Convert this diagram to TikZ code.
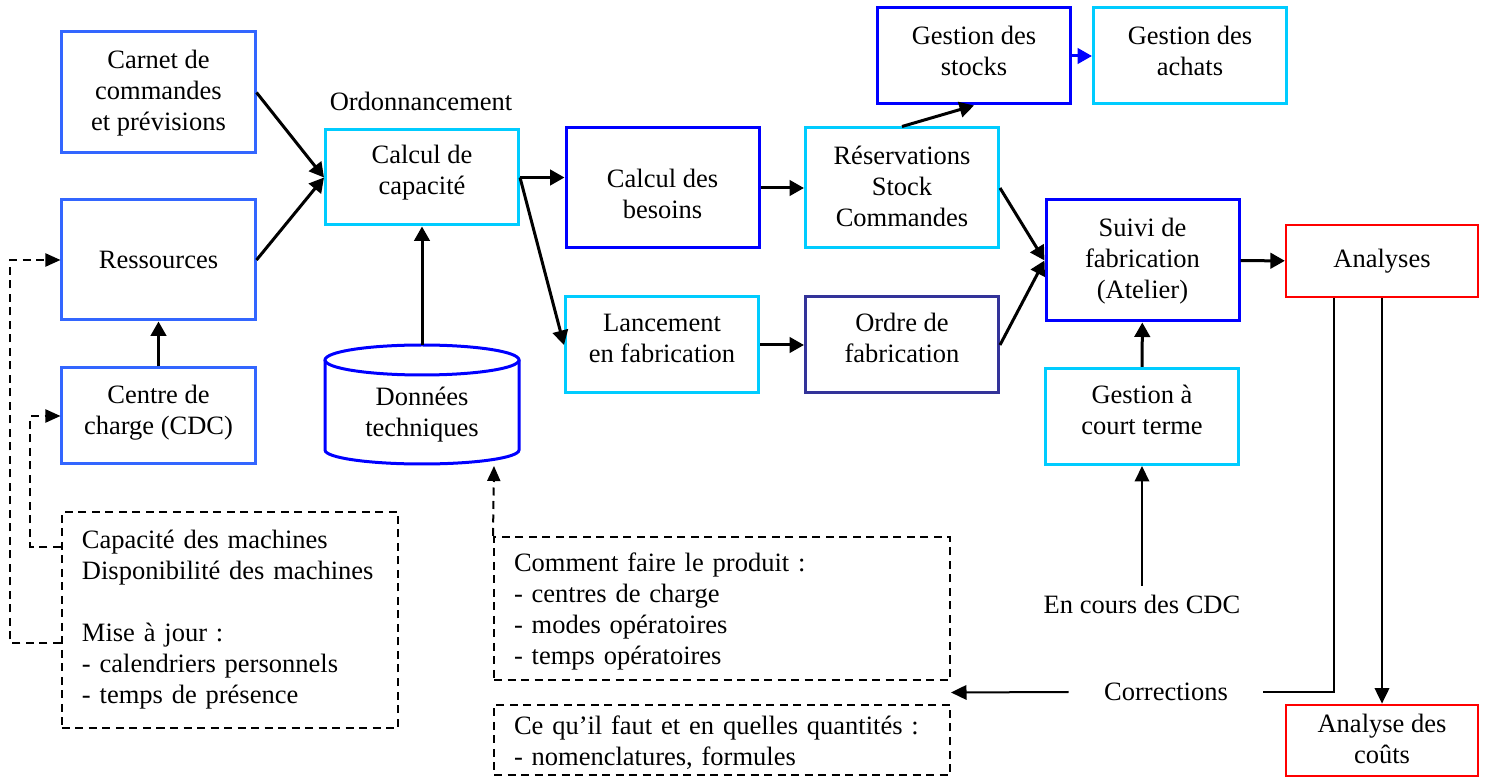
\documentclass[tikz,border=0pt]{standalone}
\usepackage{fontspec}
\setmainfont{Liberation Serif}
\usetikzlibrary{arrows.meta,calc}

\definecolor{bleumoyen}{HTML}{3366FF}
\definecolor{bleuciel}{HTML}{00CCFF}
\definecolor{bleuvif}{HTML}{0000FF}
\definecolor{indigo}{HTML}{333399}
\definecolor{rouge}{HTML}{FF0000}

\begin{document}
\begin{tikzpicture}[x=0.4pt, y=-0.4pt,
    font=\fontsize{10.6}{12.4}\selectfont,
    haut/.style={text depth=3pt, text height=#1},
    bas/.style={text height=7pt, text depth=#1},
    box/.style={draw, line width=1.2pt, minimum width=77.2pt, align=center, inner sep=2pt},
    box1/.style={box, minimum height=38.4pt},
    box2/.style={box, minimum height=48.4pt},
    boxr/.style={draw=rouge, line width=0.9pt, minimum width=76.8pt, minimum height=28.6pt, align=center, inner sep=2pt},
    note/.style={draw, line width=0.8pt, dash pattern=on 3.2pt off 2.2pt, align=left, inner xsep=8pt},
    fl/.style={line width=1.2pt, -{Triangle[length=5.8pt,width=6.2pt]}},
    fin/.style={line width=0.8pt},
    flin/.style={fin, -{Triangle[length=6.2pt,width=5.8pt]}},
    pointille/.style={line width=0.8pt, dash pattern=on 3.2pt off 2.2pt, -{Triangle[length=6pt,width=5.2pt]}}]

    \useasboundingbox (0,0) rectangle (1488,778);

    % colonne de gauche
    \node[box2, draw=bleumoyen, haut=33.2pt] (carnet) at (158.5,92.5) {Carnet de\\commandes\\et prévisions};
    \node[box2, draw=bleumoyen, minimum height=48pt] (ressources) at (158.5,260) {Ressources};
    \node[box1, draw=bleumoyen, haut=17.6pt] (cdc) at (158.5,416) {Centre de\\charge (CDC)};

    % ordonnancement
    \node (ordo) at (421,101) {Ordonnancement};
    \node[box1, draw=bleuciel, minimum height=38pt, haut=16.8pt] (capacite) at (422,177.5) {Calcul de\\capacité};
    \draw[bleuvif, line width=1.2pt] (325,360) -- (325,450) arc[start angle=180, end angle=0, x radius=97, y radius=14] -- (519,360);
    \draw[bleuvif, line width=1.2pt] (422,360) ellipse [x radius=97, y radius=15];
    \node[align=center] (donnees) at (422,414.5) {Données\\techniques};
    \coordinate (donnees-haut) at (422,345);
    \coordinate (donnees-bas) at (494,466);

    \node[box2, draw=bleuvif, minimum height=48pt, haut=27.2pt] (besoins) at (662.5,188) {Calcul des\\besoins};
    \node[box1, draw=bleuciel, haut=17.2pt] (lancement) at (662,345) {Lancement\\en fabrication};
    \node[box2, draw=bleuciel, minimum height=48pt, haut=33.6pt] (reservations) at (902,188) {Réservations\\Stock\\Commandes};
    \node[box1, draw=indigo, haut=17.2pt] (ordre) at (902,345) {Ordre de\\fabrication};
    \node[box1, draw=bleuvif, haut=18.4pt] (stocks) at (974,56) {Gestion des\\stocks};
    \node[box1, draw=bleuciel, haut=18.4pt] (achats) at (1190,56) {Gestion des\\achats};

    % atelier
    \node[box2, draw=bleuvif, haut=33.2pt] (suivi) at (1142.5,260.5) {Suivi de\\fabrication\\(Atelier)};
    \node[box1, draw=bleuciel, haut=17.6pt] (court) at (1142,416.5) {Gestion à\\court terme};
    \node[boxr] (analyses) at (1382,261) {Analyses};
    \node[boxr, haut=21.6pt] (couts) at (1382,740.5) {Analyse des\\coûts};
    \node (encours) at (1142,604) {En cours des CDC};
    \node[inner xsep=14pt] (corrections) at (1166,692) {Corrections};

    % notes
    \node[note, text width=118.4pt, minimum height=86.4pt] (machines) at (230,620) {Capacité des machines\\Disponibilité des machines\\[12.4pt]Mise à jour :\\- calendriers personnels\\- temps de présence};
    \node[note, text width=166.4pt, minimum height=57.2pt, bas=36.8pt] (produit) at (722,608.5) {Comment faire le produit :\\- centres de charge\\- modes opératoires\\- temps opératoires};
    \node[note, text width=166.4pt, minimum height=28pt, bas=11.6pt] (quantites) at (722,740) {Ce qu’il faut et en quelles quantités :\\- nomenclatures, formules};

    % liaisons
    \draw[fl] (carnet.east) -- (capacite.west);
    \draw[fl] (ressources.east) -- (capacite.west);
    \draw[fl] (cdc.north) -- (ressources.south);
    \draw[fl] (donnees-haut) -- (capacite.south);
    \draw[fl] (capacite.east) -- (capacite.east -| besoins.west);
    \draw[fl] (capacite.east) -- (lancement.west);
    \draw[fl] (besoins) -- (reservations);
    \draw[fl] (reservations.north) -- (stocks.south);
    \draw[fl, bleuvif] (stocks) -- (achats);
    \draw[fl] (reservations.east) -- (suivi.west);
    \draw[fl] (lancement) -- (ordre);
    \draw[fl] (ordre.east) -- (suivi.west);
    \draw[fl] (court) -- (suivi);
    \draw[fl] (suivi) -- (analyses);
    \draw[flin] (encours) -- (court);
    \draw[fin] ([xshift=-19.2pt]analyses.south) |- (corrections.east);
    \draw[flin] (corrections.west) -- ($(produit.south east)!.5!(quantites.north east)$);
    \draw[flin] (analyses) -- (couts);

    % pointilles
    \draw[pointille] ([yshift=-52.8pt]machines.north west) -| ([xshift=-20pt]ressources.west) -- (ressources.west);
    \draw[pointille] ([yshift=-14.4pt]machines.north west) -| ([xshift=-12pt]cdc.west) -- (cdc.west);
    \draw[pointille] (produit.north west) -- (donnees-bas);
\end{tikzpicture}
\end{document}
